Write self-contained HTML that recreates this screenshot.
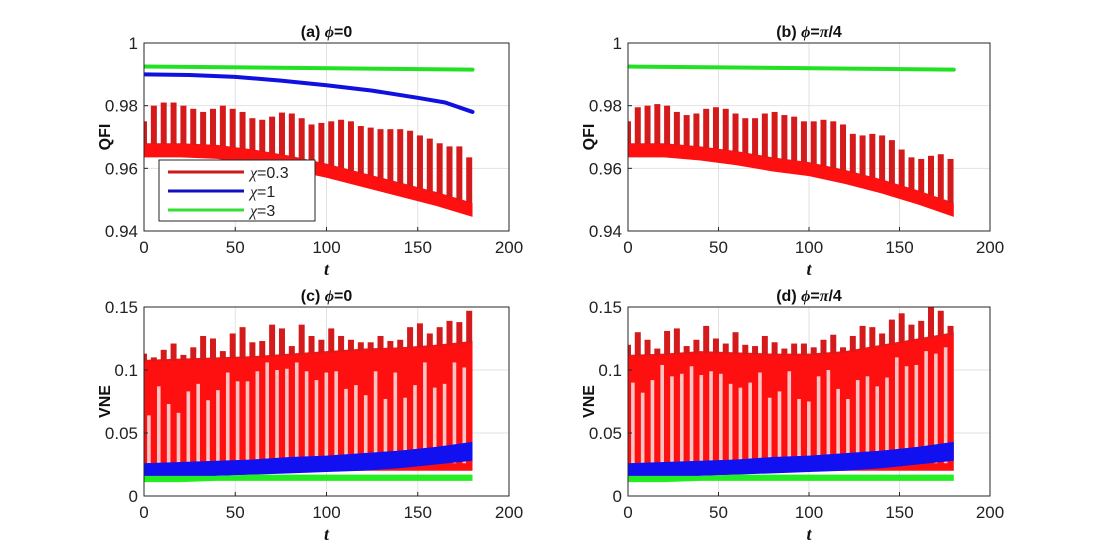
<!DOCTYPE html>
<html><head><meta charset="utf-8"><style>
body{margin:0;background:#fff;}
svg{display:block;font-family:"Liberation Sans",sans-serif;}
</style></head><body>
<svg id="fig" width="1100" height="560" viewBox="0 0 1100 560"></svg>
<script>
// ---------- data ----------
const bandT = [0,20,40,60,80,100,120,140,160,180];
const qfiA_bandLo = [0.9635,0.9635,0.963,0.9615,0.9595,0.957,0.954,0.951,0.948,0.9445];
const qfiA_spikes = [0.975,0.980,0.981,0.981,0.980,0.979,0.978,0.979,0.980,0.979,0.978,0.976,0.9755,0.9765,0.9778,0.9775,0.976,0.974,0.9745,0.975,0.9755,0.975,0.9735,0.973,0.9725,0.9725,0.9725,0.972,0.9705,0.9695,0.968,0.967,0.967,0.9635];
const qfiA_blueT = [0,25,50,75,100,125,150,165,180];
const qfiA_blue = [0.990,0.9898,0.9892,0.988,0.9865,0.9848,0.9825,0.981,0.978];
const qfi_greenT = [0,180];
const qfi_green = [0.9925,0.9915];
const qfiB_bandLo = [0.9635,0.9635,0.9625,0.961,0.959,0.9575,0.955,0.952,0.9485,0.9445];
const qfiB_spikes = [0.975,0.9795,0.980,0.9805,0.980,0.978,0.977,0.9775,0.979,0.9795,0.979,0.9775,0.976,0.976,0.9775,0.978,0.977,0.9765,0.975,0.975,0.9755,0.975,0.974,0.971,0.9705,0.971,0.9705,0.969,0.966,0.9635,0.963,0.964,0.9645,0.963];
const vneC_upper = [0.108,0.109,0.11,0.111,0.113,0.115,0.117,0.118,0.12,0.123];
const vneC_spikes = [0.113,0.11,0.116,0.121,0.112,0.118,0.127,0.125,0.115,0.129,0.134,0.122,0.123,0.136,0.133,0.119,0.136,0.127,0.124,0.133,0.127,0.124,0.122,0.122,0.127,0.123,0.124,0.134,0.137,0.129,0.134,0.139,0.138,0.147];
const vneC_slits = [0.064,0.087,0.073,0.066,0.083,0.089,0.076,0.084,0.098,0.091,0.091,0.099,0.106,0.100,0.101,0.106,0.099,0.092,0.098,0.099,0.085,0.088,0.080,0.099,0.077,0.098,0.078,0.088,0.106,0.086,0.089,0.106,0.102,0.044];
const vneD_upper = [0.112,0.113,0.115,0.114,0.113,0.113,0.115,0.12,0.125,0.13];
const vneD_spikes = [0.12,0.13,0.124,0.117,0.131,0.133,0.119,0.124,0.135,0.125,0.121,0.13,0.12,0.119,0.127,0.122,0.117,0.121,0.121,0.118,0.124,0.128,0.118,0.127,0.135,0.134,0.129,0.14,0.145,0.136,0.139,0.15,0.147,0.135];
const vneD_slits = [0.09,0.082,0.092,0.104,0.095,0.097,0.103,0.096,0.099,0.097,0.089,0.086,0.09,0.098,0.078,0.083,0.099,0.077,0.075,0.095,0.1,0.085,0.077,0.092,0.095,0.087,0.094,0.11,0.103,0.104,0.115,0.113,0.118,0.05];
const vne_blueLo = [0.012,0.014,0.016,0.017,0.018,0.019,0.02,0.022,0.025,0.028];
const vne_blueHi = [0.026,0.027,0.028,0.029,0.031,0.032,0.034,0.036,0.039,0.043];
const vne_greenLo = [0.011,0.011,0.012,0.012,0.012,0.012,0.012,0.012,0.012,0.012];
const vne_greenHi = [0.016,0.016,0.016,0.017,0.017,0.017,0.017,0.017,0.017,0.017];
const xTicks = [0,50,100,150,200];
const qfiTicks = [0.94,0.96,0.98,1];
const qfiTickLabels = ["0.94","0.96","0.98","1"];
const vneTicks = [0,0.05,0.1,0.15];
const vneTickLabels = ["0","0.05","0.1","0.15"];
const spikeStep = 5.4;

const NS="http://www.w3.org/2000/svg";
const fig=document.getElementById('fig');
function mk(tag,attrs,parent){const e=document.createElementNS(NS,tag);for(const k in attrs)e.setAttribute(k,attrs[k]);(parent||fig).appendChild(e);return e;}

function panel(o){
  const g=mk('g',{});
  
  
  const X=v=>o.x0+(v-0)/(200)*(o.x1-o.x0);
  const Y=v=>o.y1-(v-o.ymin)/(o.ymax-o.ymin)*(o.y1-o.y0);
  mk('rect',{x:o.x0,y:o.y0,width:o.x1-o.x0,height:o.y1-o.y0,fill:'#fff',stroke:'none'},g);
  xTicks.forEach(t=>{mk('line',{x1:X(t),x2:X(t),y1:o.y0,y2:o.y1,stroke:'#e2e2e2','stroke-width':1},g);});
  o.yt.forEach(t=>{mk('line',{x1:o.x0,x2:o.x1,y1:Y(t),y2:Y(t),stroke:'#e2e2e2','stroke-width':1},g);});
  const clip='clip-'+o.name;
  const cp=mk('clipPath',{id:clip},g);mk('rect',{x:o.x0,y:o.y0-6,width:o.x1-o.x0,height:o.y1-o.y0+6},cp);
  const dg=mk('g',{'clip-path':'url(#'+clip+')'},g);
  o.draw(dg,X,Y);
  mk('rect',{x:o.x0,y:o.y0,width:o.x1-o.x0,height:o.y1-o.y0,fill:'none',stroke:'#262626','stroke-width':1},g);
  xTicks.forEach(t=>{
    mk('line',{x1:X(t),x2:X(t),y1:o.y1,y2:o.y1-4,stroke:'#262626'},g);
    const tx=mk('text',{x:X(t),y:o.y1+22,'text-anchor':'middle','font-size':17,fill:'#222'},g);tx.textContent=t;
    
    
  });
  o.yt.forEach((t,i)=>{
    mk('line',{x1:o.x0,x2:o.x0+4,y1:Y(t),y2:Y(t),stroke:'#262626'},g);
    const tx=mk('text',{x:o.x0-6,y:Y(t)+6,'text-anchor':'end','font-size':17,fill:'#222'},g);tx.textContent=o.yl[i];
    
    
  });
  const ti=mk('text',{x:(o.x0+o.x1)/2,y:o.y0-6,'text-anchor':'middle','font-size':16,'font-weight':'bold',fill:'#111'},g);
  ti.innerHTML=o.title;
  
  
  const xl=mk('text',{x:(o.x0+o.x1)/2,y:o.y1+44,'text-anchor':'middle','font-size':18,'font-weight':'bold','font-style':'italic',fill:'#111','font-family':'Liberation Serif'},g);xl.textContent='t';
  
  
  const yc=(o.y0+o.y1)/2;
  const yl=mk('text',{x:o.x0-34,y:yc,'text-anchor':'middle','font-size':16,'font-weight':'bold',fill:'#111',transform:`rotate(-90 ${o.x0-34} ${yc})`},g);yl.textContent=o.ylabel;
  
  
}
function polyLine(g,xs,ys,X,Y,color,w,name){
  const p=mk('polyline',{points:xs.map((t,i)=>X(t)+','+Y(ys[i])).join(' '),fill:'none',stroke:color,'stroke-width':w,'stroke-linecap':'round','stroke-linejoin':'round'},g);
  
  
}
function band(g,lo,hi,X,Y,color,name){
  const pts=bandT.map((t,i)=>X(t)+','+Y(hi[i])).concat(bandT.slice().reverse().map((t,j)=>{const i=bandT.length-1-j;return X(t)+','+Y(lo[i]);}));
  const p=mk('polygon',{points:pts.join(' '),fill:color},g);
  
  
}
function interp(arr,t){for(let i=0;i<bandT.length-1;i++){if(t<=bandT[i+1]){const f=(t-bandT[i])/(bandT[i+1]-bandT[i]);return arr[i]+f*(arr[i+1]-arr[i]);}}return arr[arr.length-1];}

function qfiRed(g,X,Y,lo,spikes){
  const hi=lo.map(v=>v+0.0045);
  band(g,lo,hi,X,Y,'#ff1010','red-band');
  spikes.forEach((v,i)=>{
    const t=Math.min(i*spikeStep,180);const base=interp(hi,t);
    const r=mk('rect',{x:X(t)-3,y:Y(v),width:6,height:Math.max(0,Y(base)-Y(v)+1),fill:'#d41a1a'},g);
    
    
  });
}
function vneRed(g,X,Y,upper,spikes,slits){
  const lo=bandT.map(()=>0.02);
  band(g,lo,upper,X,Y,'#ff1010','red-band');
  spikes.forEach((v,i)=>{
    const t=Math.min(i*spikeStep,180);const base=interp(upper,t);
    const r=mk('rect',{x:X(t)-3,y:Y(v),width:6,height:Math.max(0,Y(base)-Y(v)+2),fill:'#d41a1a'},g);
    
    
    if(i<slits.length-1){
      const s=mk('rect',{x:X(t+spikeStep/2)-1.8,y:Y(slits[i]),width:3.6,height:Y(0.026)-Y(slits[i]),fill:'#f8c4c4'},g);
      
      
    }
  });
}
const qfiCommon={ymin:0.94,ymax:1,yt:qfiTicks,yl:qfiTickLabels,ylabel:'QFI',y0:43,y1:231};
const vneCommon={ymin:0,ymax:0.15,yt:vneTicks,yl:vneTickLabels,ylabel:'VNE',y0:307,y1:496};

panel(Object.assign({},qfiCommon,{name:'panel-a',x0:144,x1:509,title:'(a) <tspan font-style="italic" font-family="Liberation Serif">ϕ</tspan>=0',
  draw:(g,X,Y)=>{qfiRed(g,X,Y,qfiA_bandLo,qfiA_spikes);polyLine(g,qfiA_blueT,qfiA_blue,X,Y,'#1010e0',4,'blue-line');polyLine(g,qfi_greenT,qfi_green,X,Y,'#22e022',4,'green-line');}}));
panel(Object.assign({},qfiCommon,{name:'panel-b',x0:628,x1:990,title:'(b) <tspan font-style="italic" font-family="Liberation Serif">ϕ</tspan>=<tspan font-style="italic" font-family="Liberation Serif">π</tspan>/4',
  draw:(g,X,Y)=>{qfiRed(g,X,Y,qfiB_bandLo,qfiB_spikes);polyLine(g,qfi_greenT,qfi_green,X,Y,'#22e022',4,'green-line');}}));
panel(Object.assign({},vneCommon,{name:'panel-c',x0:144,x1:509,title:'(c) <tspan font-style="italic" font-family="Liberation Serif">ϕ</tspan>=0',
  draw:(g,X,Y)=>{vneRed(g,X,Y,vneC_upper,vneC_spikes,vneC_slits);band(g,vne_blueLo,vne_blueHi,X,Y,'#1010f0','blue-band');band(g,vne_greenLo,vne_greenHi,X,Y,'#22ee22','green-band');}}));
panel(Object.assign({},vneCommon,{name:'panel-d',x0:628,x1:990,title:'(d) <tspan font-style="italic" font-family="Liberation Serif">ϕ</tspan>=<tspan font-style="italic" font-family="Liberation Serif">π</tspan>/4',
  draw:(g,X,Y)=>{vneRed(g,X,Y,vneD_upper,vneD_spikes,vneD_slits);band(g,vne_blueLo,vne_blueHi,X,Y,'#1010f0','blue-band');band(g,vne_greenLo,vne_greenHi,X,Y,'#22ee22','green-band');}}));

// legend
const lg=mk('g',{});


mk('rect',{x:159,y:160,width:156,height:61,fill:'#fff',stroke:'#262626','stroke-width':1},lg);
[['χ=0.3','#cc1a1a'],['χ=1','#1010c0'],['χ=3','#33e033']].forEach((e,i)=>{
  const y=172+i*19;
  mk('line',{x1:168,x2:244,y1:y,y2:y,stroke:e[1],'stroke-width':3},lg);
  const t=mk('text',{x:250,y:y+6,'font-size':16,fill:'#222'},lg);
  t.innerHTML='<tspan font-family="Liberation Serif" font-style="italic">χ</tspan>'+e[0].slice(1);
  
  
});
</script>
</body></html>
